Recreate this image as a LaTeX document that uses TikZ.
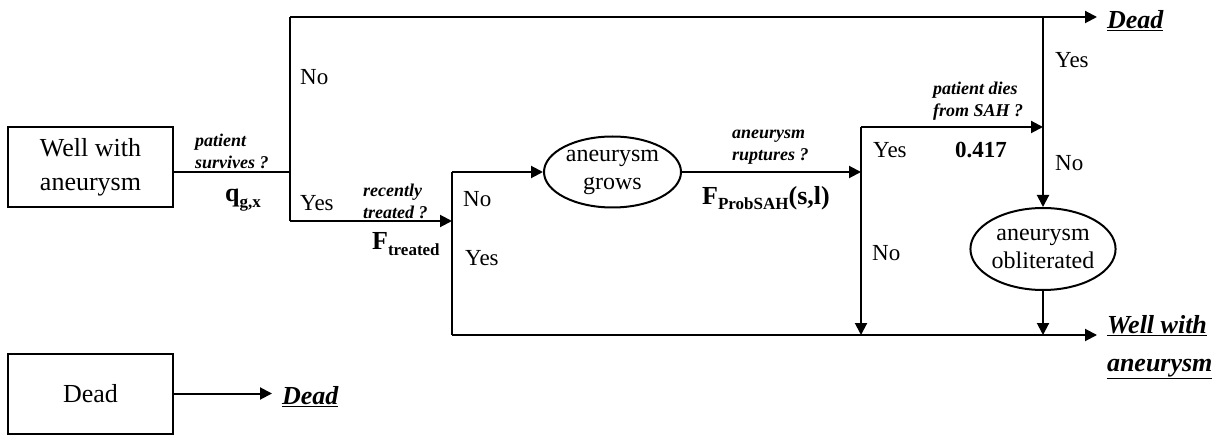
\documentclass[tikz,border=0pt]{standalone}
\usepackage{fontspec}
\setmainfont{Liberation Serif}
\usetikzlibrary{shapes.geometric,arrows.meta}

\newcommand{\lowsub}[1]{\raisebox{-0.45ex}{\fontsize{17}{17}\selectfont #1}}

\tikzset{
  state/.style={draw,line width=2pt,minimum width=165pt,minimum height=80pt,align=center,font=\fontsize{26}{34}\selectfont},
  chance/.style={draw,ellipse,line width=2pt,inner sep=0pt,align=center,font=\fontsize{24}{28}\selectfont},
  ans/.style={anchor=west,inner sep=0pt,font=\fontsize{23}{26}\selectfont},
  quest/.style={anchor=west,inner sep=0pt,align=left,font=\fontsize{18}{22}\bfseries\itshape\selectfont},
  prob/.style={anchor=west,inner sep=0pt,font=\fontsize{26}{28}\bfseries\selectfont},
  outcome/.style={anchor=west,inner sep=0pt,outer xsep=10pt,align=left,font=\fontsize{26}{38}\bfseries\itshape\selectfont},
  flow/.style={line width=2pt},
  arr/.style={flow,-{Triangle[length=12pt,width=12pt]}},
}

\begin{document}
\begin{tikzpicture}[x=1pt,y=-1pt]
\useasboundingbox(0,0)rectangle(1225,435);
% health states
\node[state](well)at(90.5,167){Well with\\aneurysm};
\node[state](dead)at(90.5,393.5){Dead};
\node[chance,minimum width=137pt,minimum height=71pt](grows)at(612.5,172){aneurysm\\grows};
\node[chance,minimum width=142pt,minimum height=82pt](oblit)at(1043,249){aneurysm\\obliterated};
% branch points
\coordinate(S1)at(290,172);
\coordinate(S1N)at(290,17);
\coordinate(S1Y)at(290,221);
\coordinate(S2)at(452,221);
\coordinate(S2N)at(452,172);
\coordinate(S2Y)at(452,335);
\coordinate(S3)at(861,172);
\coordinate(S3Y)at(861,127);
\coordinate(S3N)at(861,335);
\coordinate(S4)at(1043,127);
\coordinate(S4Y)at(1043,17);
\coordinate(S4N)at(1043,335);
% end states
\node[outcome](endDead)at(1097,21){\underline{Dead}};
\node[outcome](endWell)at(1097,347){\underline{Well with}\\\underline{aneurysm}};
\node[outcome](endDead2)at(272,397){\underline{Dead}};
% connectors
\draw[flow](well.east|-S1)--(S1);
\draw[flow](S1N)--(S1Y);
\draw[arr](S1N)--(S1N-|endDead.west);
\draw[arr](S1Y)--(S2);
\draw[flow](S2N)--(S2Y);
\draw[arr](S2N)--(grows.west);
\draw[arr](grows.east)--(S3);
\draw[arr](S3Y)--(S3N);
\draw[arr](S3Y)--(S4);
\draw[arr](S4Y)--(oblit.north);
\draw[arr](oblit.south)--(S4N);
\draw[arr](S2Y)--(S2Y-|endWell.west);
\draw[arr](dead.east)--(dead.east-|endDead2.west);
% labels
\node[ans](no1)at(300,77){No};
\node[ans](yes1)at(300,203){Yes};
\node[quest](q1)at(195,151){patient\\survives ?};
\node[prob](p1)at(225,200){q\lowsub{g,x}};
\node[quest](q2)at(363,201){recently\\treated ?};
\node[prob](p2)at(372,244){F\lowsub{treated}};
\node[ans](no2)at(463,199){No};
\node[ans](yes2)at(465,258){Yes};
\node[quest](q3)at(732,147){aneurysm\\ruptures ?};
\node[prob](p3)at(702,198){F\lowsub{ProbSAH}(s,l)};
\node[quest](q4)at(933,101){patient dies\\from SAH ?};
\node[ans](yes3)at(873,150){Yes};
\node[prob,font=\fontsize{23}{26}\bfseries\selectfont](p4)at(955,150){0.417};
\node[ans](yes4)at(1055,60){Yes};
\node[ans](no4)at(1055,163){No};
\node[ans](no3)at(872,253){No};
\end{tikzpicture}
\end{document}
